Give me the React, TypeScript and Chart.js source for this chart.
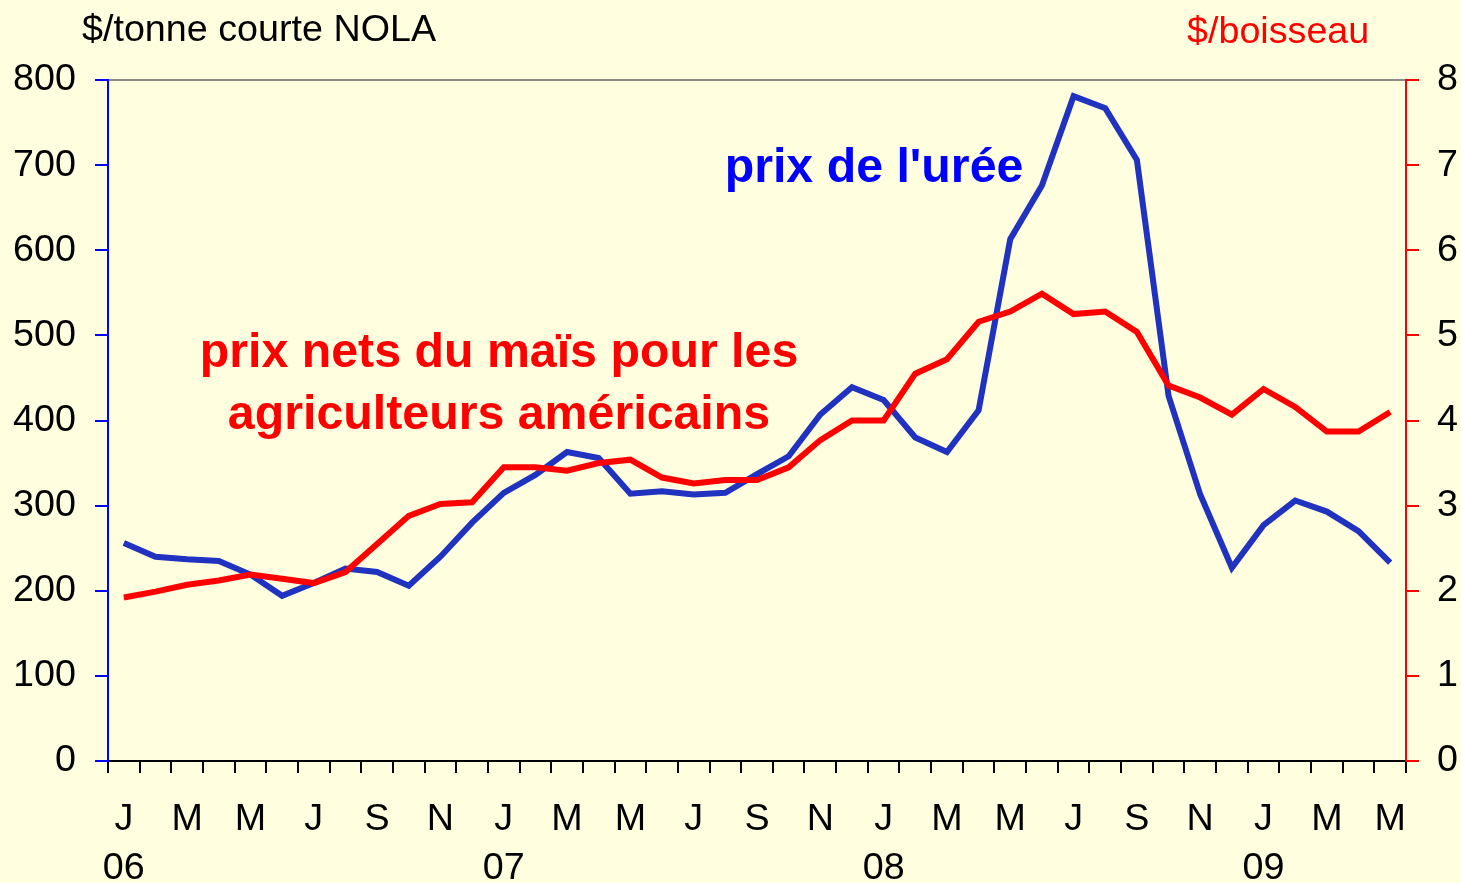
import React, { useEffect, useRef } from "react";
import { Chart, registerables } from "chart.js";

Chart.register(...registerables);

const CATEGORIES = [
  "2006-01", "2006-02", "2006-03", "2006-04", "2006-05", "2006-06", "2006-07", "2006-08", "2006-09", "2006-10", "2006-11", "2006-12",
  "2007-01", "2007-02", "2007-03", "2007-04", "2007-05", "2007-06", "2007-07", "2007-08", "2007-09", "2007-10", "2007-11", "2007-12",
  "2008-01", "2008-02", "2008-03", "2008-04", "2008-05", "2008-06", "2008-07", "2008-08", "2008-09", "2008-10", "2008-11", "2008-12",
  "2009-01", "2009-02", "2009-03", "2009-04", "2009-05",
];

const MONTH_TICKS = [
  "J", "", "M", "", "M", "", "J", "", "S", "", "N", "",
  "J", "", "M", "", "M", "", "J", "", "S", "", "N", "",
  "J", "", "M", "", "M", "", "J", "", "S", "", "N", "",
  "J", "", "M", "", "M",
];

const YEAR_TICKS: Record<number, string> = { 0: "06", 12: "07", 24: "08", 36: "09" };

// $/tonne courte NOLA
const UREA = [
  256, 240, 237, 235, 219, 194, 209, 226, 222, 206, 240, 280,
  315, 336, 363, 356, 314, 317, 313, 315, 337, 358, 407, 439,
  424, 380, 363, 412, 613, 676, 781, 767, 706, 429, 313, 227,
  277, 306, 293, 270, 233,
];

// $/boisseau
const CORN = [
  1.92, 1.99, 2.07, 2.12, 2.19, 2.14, 2.09, 2.22, 2.55, 2.88, 3.02, 3.04,
  3.45, 3.45, 3.41, 3.5, 3.54, 3.33, 3.26, 3.3, 3.3, 3.45, 3.77, 4.0,
  4.0, 4.55, 4.72, 5.16, 5.28, 5.49, 5.25, 5.28, 5.04, 4.41, 4.27, 4.07,
  4.37, 4.16, 3.87, 3.87, 4.1,
];

const LEFT_TITLE = "$/tonne courte NOLA";
const RIGHT_TITLE = "$/boisseau";
const UREA_LABEL = "prix de l'urée";
const CORN_LABEL = ["prix nets du maïs pour les", "agriculteurs américains"];

const FONT = "'Liberation Sans', Arial, Helvetica, sans-serif";
const BG = "#FFFFE0";
const BLUE_LINE = "#2032C0";
const BLUE_TEXT = "#0000FF";
const RED = "#FF0000";

const decorPlugin = {
  id: "decor",
  beforeDraw(chart: any) {
    const ctx = chart.ctx;
    ctx.save();
    ctx.fillStyle = BG;
    ctx.fillRect(0, 0, chart.width, chart.height);
    ctx.restore();
  },
  afterDraw(chart: any) {
    const ctx = chart.ctx;
    ctx.save();
    ctx.textBaseline = "alphabetic";
    ctx.font = `37.7px ${FONT}`;
    ctx.fillStyle = "#000000";
    ctx.textAlign = "left";
    ctx.fillText(LEFT_TITLE, 82, 41);
    ctx.fillStyle = RED;
    ctx.fillText(RIGHT_TITLE, 1187, 43);

    ctx.font = `bold 48.3px ${FONT}`;
    ctx.textAlign = "center";
    ctx.fillStyle = BLUE_TEXT;
    ctx.fillText(UREA_LABEL, 874, 182);
    ctx.fillStyle = RED;
    ctx.fillText(CORN_LABEL[0], 499, 367);
    ctx.fillText(CORN_LABEL[1], 499, 429);
    ctx.restore();
  },
};

export default function App() {
  const ref = useRef<HTMLCanvasElement | null>(null);

  useEffect(() => {
    if (!ref.current) return;
    const chart = new Chart(ref.current, {
      type: "line",
      data: {
        labels: CATEGORIES,
        datasets: [
          {
            label: "maïs",
            data: CORN,
            yAxisID: "y1",
            borderColor: RED,
            backgroundColor: RED,
            borderWidth: 6,
            pointRadius: 0,
            tension: 0,
            fill: false,
          },
          {
            label: "urée",
            data: UREA,
            yAxisID: "y",
            borderColor: BLUE_LINE,
            backgroundColor: BLUE_LINE,
            borderWidth: 6,
            pointRadius: 0,
            tension: 0,
            fill: false,
          },
        ],
      },
      options: {
        responsive: false,
        animation: false,
        layout: { padding: { top: 80, left: 0, right: 0, bottom: 0 } },
        plugins: {
          legend: { display: false },
          title: { display: false },
          tooltip: { enabled: false },
        },
        scales: {
          x: {
            type: "category",
            offset: true,
            afterFit: (s: any) => {
              s.height = 122;
            },
            border: { color: "#000000", width: 2 },
            grid: {
              offset: true,
              drawOnChartArea: false,
              color: "#000000",
              tickLength: 12,
              lineWidth: 2,
            },
            ticks: {
              autoSkip: false,
              maxRotation: 0,
              minRotation: 0,
              padding: 22,
              color: "#000000",
              font: { family: FONT, size: 37.7, lineHeight: 1.3 },
              callback: (_v: any, i: number) =>
                YEAR_TICKS[i] ? [MONTH_TICKS[i], YEAR_TICKS[i]] : MONTH_TICKS[i],
            },
          },
          y: {
            position: "left",
            min: 0,
            max: 800,
            afterFit: (s: any) => {
              s.width = 108;
            },
            border: { color: "#0000FF", width: 2 },
            grid: {
              drawOnChartArea: true,
              color: (c: any) => (c.tick && c.tick.value === 800 ? "#8C8C8C" : "rgba(0,0,0,0)"),
              tickColor: "#0000FF",
              tickLength: 13,
              lineWidth: 2,
            },
            ticks: {
              stepSize: 100,
              padding: 19,
              color: "#000000",
              font: { family: FONT, size: 37.7 },
            },
          },
          y1: {
            position: "right",
            min: 0,
            max: 8,
            afterFit: (s: any) => {
              s.width = 55;
            },
            border: { color: RED, width: 2 },
            grid: {
              drawOnChartArea: false,
              color: RED,
              tickLength: 13,
              lineWidth: 2,
            },
            ticks: {
              stepSize: 1,
              padding: 18,
              color: "#000000",
              font: { family: FONT, size: 37.7 },
            },
          },
        },
      },
      plugins: [decorPlugin],
    } as any);
    return () => chart.destroy();
  }, []);

  return (
    <div style={{ position: "fixed", left: 0, top: 0, width: 1461, height: 883, background: BG }}>
      <canvas ref={ref} width={1461} height={883} style={{ display: "block" }} />
    </div>
  );
}
